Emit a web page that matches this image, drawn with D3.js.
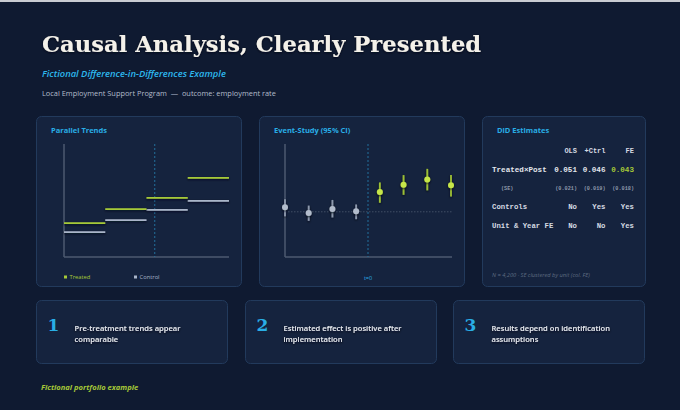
<!DOCTYPE html>
<html>
<head>
<meta charset="utf-8">
<script src="https://cdn.jsdelivr.net/npm/d3@7"></script>
<style>
  body { margin: 0; background: #0f1a31; }
  svg { display: block; }
  .sans { font-family: "Open Sans", "Noto Sans", sans-serif; }
  .mono { font-family: "Liberation Mono", "DejaVu Sans Mono", monospace; }
</style>
</head>
<body>
<div id="chart"></div>
<script>
// ---- data ----
var periods = ["P1", "P2", "P3", "P4"];
var treated = [0.490, 0.527, 0.557, 0.610];
var control = [0.466, 0.498, 0.525, 0.549];

var eventTimes = [-4, -3, -2, -1, 0, 1, 2, 3];
var estimates = [0.008, -0.002, 0.005, 0.001, 0.035, 0.048, 0.057, 0.047];
var ciLow = [-0.008, -0.016, -0.010, -0.013, 0.016, 0.030, 0.038, 0.027];
var ciHigh = [0.022, 0.011, 0.021, 0.013, 0.052, 0.065, 0.076, 0.065];

var models = ["OLS", "+Ctrl", "FE"];
var coefs = ["0.051", "0.046", "0.043"];
var ses = ["(0.021)", "(0.019)", "(0.018)"];
var controlsRow = ["No", "Yes", "Yes"];
var feRow = ["No", "No", "Yes"];

var takeaways = [
  ["Pre-treatment trends appear", "comparable"],
  ["Estimated effect is positive after", "implementation"],
  ["Results depend on identification", "assumptions"]
];

var cyan = "#29aee6";
var green = "#a6c938";
var lime = "#c6e64a";
var grey = "#a9b5c9";

var svg = d3.select("#chart").append("svg")
  .attr("width", 680)
  .attr("height", 410);

// shadow filter in user space so flat lines keep it
var defs = svg.append("defs");
var sh = defs.append("filter").attr("id", "shadow")
  .attr("filterUnits", "userSpaceOnUse")
  .attr("x", 0).attr("y", 0).attr("width", 680).attr("height", 410);
sh.append("feDropShadow").attr("dx", 0).attr("dy", 1).attr("stdDeviation", 1)
  .attr("flood-color", "#050a16").attr("flood-opacity", 0.9);

svg.append("rect").attr("width", 680).attr("height", 410).attr("fill", "#0f1a31");
svg.append("rect").attr("width", 680).attr("height", 2).attr("fill", "#c9ccd2");

// header
svg.append("text")
  .attr("x", 42).attr("y", 52)
  .attr("font-family", "DejaVu Serif, serif")
  .attr("font-weight", "bold")
  .attr("font-size", 22.7)
  .attr("fill", "#f4f1ea")
  .attr("filter", "url(#shadow)")
  .text("Causal Analysis, Clearly Presented");

svg.append("text").attr("class", "sans")
  .attr("x", 42).attr("y", 77)
  .attr("font-size", 9.4).attr("font-style", "italic").attr("font-weight", 600)
  .attr("fill", "#2db8ee")
  .text("Fictional Difference-in-Differences Example");

svg.append("text").attr("class", "sans")
  .attr("x", 42).attr("y", 96)
  .attr("font-size", 7.4)
  .attr("fill", "#b3bccb")
  .attr("xml:space", "preserve")
  .text("Local Employment Support Program  \u2014  outcome: employment rate");

// panels
function panel(x, y, w, h) {
  svg.append("rect")
    .attr("x", x).attr("y", y).attr("width", w).attr("height", h)
    .attr("rx", 5)
    .attr("fill", "#15233e")
    .attr("stroke", "#223a5c")
    .attr("stroke-width", 1);
}
function panelTitle(x, y, t) {
  svg.append("text").attr("class", "sans")
    .attr("x", x).attr("y", y)
    .attr("font-size", 7.5).attr("font-weight", "bold")
    .attr("fill", cyan)
    .text(t);
}

panel(36.5, 116.5, 205, 170);
panel(259.5, 116.5, 205, 170);
panel(482.5, 116.5, 163, 170);
panelTitle(51, 133, "Parallel Trends");
panelTitle(274, 133, "Event-Study (95% CI)");
panelTitle(497, 133, "DiD Estimates");

// ---- Parallel trends ----
var x1 = d3.scaleBand().domain(periods).range([64, 229]);
var y1 = d3.scaleLinear().domain([0.40, 0.70]).range([257, 144]);

var g1 = svg.append("g");
g1.append("line").attr("x1", 64).attr("x2", 64).attr("y1", y1.range()[1]).attr("y2", y1.range()[0])
  .attr("stroke", "#4d5a70").attr("stroke-width", 1.5);
g1.append("line").attr("x1", 64).attr("x2", 229).attr("y1", 257).attr("y2", 257)
  .attr("stroke", "#4d5a70").attr("stroke-width", 1.5);
g1.append("line")
  .attr("x1", x1("P3") + x1.bandwidth() / 5).attr("x2", x1("P3") + x1.bandwidth() / 5)
  .attr("y1", 144).attr("y2", 257)
  .attr("stroke", "#23709c").attr("stroke-width", 1).attr("stroke-dasharray", "2,2");

g1.selectAll(".ctl").data(control).enter().append("line")
  .attr("x1", (d, i) => x1(periods[i]))
  .attr("x2", (d, i) => x1(periods[i]) + x1.bandwidth())
  .attr("y1", d => y1(d)).attr("y2", d => y1(d))
  .attr("stroke", grey).attr("stroke-width", 1.8)
  .attr("filter", "url(#shadow)");
g1.selectAll(".trt").data(treated).enter().append("line")
  .attr("x1", (d, i) => x1(periods[i]))
  .attr("x2", (d, i) => x1(periods[i]) + x1.bandwidth())
  .attr("y1", d => y1(d)).attr("y2", d => y1(d))
  .attr("stroke", green).attr("stroke-width", 1.8)
  .attr("filter", "url(#shadow)");

// legend
[["Treated", green, 64], ["Control", grey, 134]].forEach(function(l) {
  g1.append("rect").attr("x", l[2]).attr("y", 275.5).attr("width", 3).attr("height", 3).attr("fill", l[1]);
  g1.append("text").attr("class", "sans")
    .attr("x", l[2] + 5.5).attr("y", 279.3)
    .attr("font-size", 5.8).attr("fill", l[1])
    .text(l[0]);
});

// ---- Event study ----
var x2 = d3.scalePoint().domain(eventTimes).range([285, 451]);
var y2 = d3.scaleLinear().domain([-0.08, 0.12]).range([257, 144]);
var g2 = svg.append("g");
g2.append("line").attr("x1", 285).attr("x2", 285).attr("y1", 144).attr("y2", 257)
  .attr("stroke", "#4d5a70").attr("stroke-width", 1.5);
g2.append("line").attr("x1", 285).attr("x2", 452).attr("y1", 257).attr("y2", 257)
  .attr("stroke", "#4d5a70").attr("stroke-width", 1.5);
g2.append("line").attr("x1", 285).attr("x2", 452).attr("y1", y2(0)).attr("y2", y2(0))
  .attr("stroke", "#4d5a70").attr("stroke-width", 0.8).attr("stroke-dasharray", "1.5,1.5");
var tZero = (x2(-1) + x2(0)) / 2;
g2.append("line").attr("x1", tZero).attr("x2", tZero).attr("y1", 144).attr("y2", 257)
  .attr("stroke", "#23709c").attr("stroke-width", 1).attr("stroke-dasharray", "2,2");
g2.append("text").attr("class", "sans")
  .attr("x", tZero).attr("y", 280).attr("text-anchor", "middle")
  .attr("font-size", 5.5).attr("fill", cyan)
  .text("t=0");

g2.selectAll(".ci").data(eventTimes).enter().append("line")
  .attr("x1", d => x2(d)).attr("x2", d => x2(d))
  .attr("y1", (d, i) => y2(ciLow[i])).attr("y2", (d, i) => y2(ciHigh[i]))
  .attr("stroke", d => d >= 0 ? "#9cbf35" : "#8d99ad")
  .attr("stroke-width", 1.8)
  .attr("filter", "url(#shadow)");
g2.selectAll(".pt").data(eventTimes).enter().append("circle")
  .attr("cx", d => x2(d))
  .attr("cy", (d, i) => y2(estimates[i]))
  .attr("r", 3)
  .attr("fill", d => d >= 0 ? lime : "#b2bccc")
  .attr("filter", "url(#shadow)");

// ---- DiD table ----
var colX = [577, 605.5, 634];
var g3 = svg.append("g").attr("class", "mono").attr("font-weight", "bold");
function tableRow(label, vals, y, size, color, labelX, lastColor) {
  if (label) {
    g3.append("text").attr("x", labelX).attr("y", y)
      .attr("font-size", size).attr("fill", color).text(label);
  }
  vals.forEach(function(v, i) {
    g3.append("text").attr("x", colX[i]).attr("y", y).attr("text-anchor", "end")
      .attr("font-size", size)
      .attr("fill", (lastColor && i === vals.length - 1) ? lastColor : color)
      .text(v);
  });
}
tableRow(null, models, 152.5, 7, "#d6dbe3");
tableRow("Treated\u00d7Post", coefs, 171.5, 7.6, "#e3e6ec", 492, green);
tableRow("(SE)", ses, 189.5, 5.2, "#8e99ab", 501);
tableRow("Controls", controlsRow, 209, 7.3, "#d6dbe3", 492);
tableRow("Unit & Year FE", feRow, 227.5, 7.3, "#d6dbe3", 492);

svg.append("text").attr("class", "sans")
  .attr("x", 492).attr("y", 276.5)
  .attr("font-size", 5.7).attr("font-style", "italic")
  .attr("fill", "#5f6c82")
  .text("N = 4,200 \u00b7 SE clustered by unit (col. FE)");

// ---- takeaway cards ----
var cardX = [36.5, 245.5, 453.5];
takeaways.forEach(function(lines, i) {
  var cx = cardX[i];
  svg.append("rect")
    .attr("x", cx).attr("y", 300.5).attr("width", 191).attr("height", 63)
    .attr("rx", 5)
    .attr("fill", "#15233e").attr("stroke", "#223a5c");
  svg.append("text")
    .attr("x", cx + 11).attr("y", 330.5)
    .attr("font-family", "DejaVu Serif, serif").attr("font-weight", "bold")
    .attr("font-size", 17).attr("fill", cyan)
    .text(i + 1);
  lines.forEach(function(t, j) {
    svg.append("text").attr("class", "sans")
      .attr("x", cx + 38).attr("y", 330.5 + j * 11)
      .attr("font-size", 7.6).attr("font-weight", 600)
      .attr("fill", "#e6e9ef")
      .attr("filter", "url(#shadow)")
      .text(t);
  });
});

svg.append("text").attr("class", "sans")
  .attr("x", 41).attr("y", 390)
  .attr("font-size", 7.6).attr("font-style", "italic").attr("font-weight", "bold")
  .attr("fill", green)
  .text("Fictional portfolio example");
</script>
</body>
</html>
